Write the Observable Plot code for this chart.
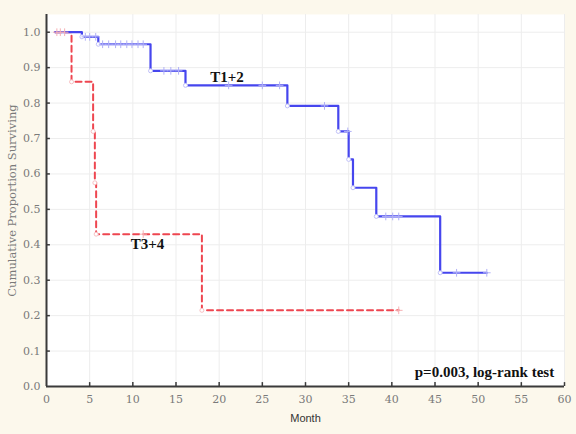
<!DOCTYPE html>
<html>
<head>
<meta charset="utf-8">
<script src="https://cdn.jsdelivr.net/npm/d3@7"></script>
<script src="https://cdn.jsdelivr.net/npm/@observablehq/plot@0.6"></script>
<style>
  body { margin: 0; background: #fcf8ec; }
</style>
</head>
<body>
<div id="chart"></div>
<script>
// Kaplan–Meier step points: month and cumulative proportion surviving
const t12Month = [1.0, 4.1, 6.0, 12.05, 16.1, 27.9, 33.8, 35.0, 35.5, 38.2, 45.6, 51.0];
const t12Surv  = [1.0, 0.987, 0.966, 0.891, 0.85, 0.792, 0.72, 0.641, 0.561, 0.48, 0.321, 0.321];
const t34Month = [1.0, 2.9, 5.4, 5.6, 5.75, 18.0, 40.8];
const t34Surv  = [1.0, 0.86, 0.72, 0.575, 0.43, 0.215, 0.215];

// Censored observations
const t12CensMonth = [4.5, 5.0, 5.7, 6.5, 7.2, 8.0, 8.6, 9.3, 9.9, 10.6, 11.2, 13.6, 14.4, 15.3, 21.1, 25.0, 27.0, 32.2, 34.9, 39.3, 40.1, 40.8, 47.5, 51.0];
const t12CensSurv  = [0.987, 0.987, 0.987, 0.966, 0.966, 0.966, 0.966, 0.966, 0.966, 0.966, 0.966, 0.891, 0.891, 0.891, 0.85, 0.85, 0.85, 0.792, 0.72, 0.48, 0.48, 0.48, 0.321, 0.321];
const t34CensMonth = [1.2, 1.6, 2.1, 11.2, 40.8];
const t34CensSurv  = [1.0, 1.0, 1.0, 0.43, 0.215];

// Group labels and test annotation
const groupNames = ["T1+2", "T3+4"];
const groupLabelMonth = [20.9, 11.7];
const groupLabelSurv = [0.872, 0.402];
const testText = "p=0.003, log-rank test";
const testMonth = 58.8;
const testSurv = 0.04;

const xTicks = [0, 5, 10, 15, 20, 25, 30, 35, 40, 45, 50, 55, 60];
const yTicks = [0, 0.1, 0.2, 0.3, 0.4, 0.5, 0.6, 0.7, 0.8, 0.9, 1.0];

const toRows = (ms, ss) => ms.map((m, i) => ({month: m, surv: ss[i]}));
const eventsOf = (rows) => rows.filter((d, i) => i > 0 && d.surv < rows[i - 1].surv);

const t12 = toRows(t12Month, t12Surv);
const t34 = toRows(t34Month, t34Surv);
const t12Cens = toRows(t12CensMonth, t12CensSurv);
const t34Cens = toRows(t34CensMonth, t34CensSurv);
const labels = groupNames.map((n, i) => ({name: n, month: groupLabelMonth[i], surv: groupLabelSurv[i]}));

const axisColor = "#3a3a3a";
const blue = "#4646ee";
const red = "#ee4650";

const chart = Plot.plot({
  width: 576,
  height: 434,
  marginLeft: 46,
  marginRight: 12,
  marginTop: 14,
  marginBottom: 48,
  style: {background: "#fcf8ec", fontFamily: "DejaVu Serif", fontSize: "11px", color: "#7a7a7a"},
  x: {domain: [0, 60]},
  y: {domain: [0, 1.05]},
  marks: [
    Plot.frame({fill: "white", stroke: null}),
    Plot.gridX(xTicks, {stroke: "#ededed", strokeOpacity: 1}),
    Plot.gridY(yTicks, {stroke: "#ededed", strokeOpacity: 1}),
    Plot.axisX(xTicks, {tickSize: 0, tickPadding: 9, tickFormat: d => String(d), label: null}),
    Plot.axisY(yTicks, {tickSize: 0, tickPadding: 6, tickFormat: d3.format(".1f"), label: null}),
    Plot.text(["Month"], {frameAnchor: "bottom", dy: 35, fontFamily: "Liberation Sans", fontSize: 11, fill: "#333"}),
    Plot.text(["Cumulative Proportion Surviving"], {frameAnchor: "left", textAnchor: "middle", dx: -34, rotate: -90, fontFamily: "DejaVu Serif", fontSize: 11.5, fill: "#7a7a7a"}),
    // axis lines with inward ticks
    Plot.ruleX([0], {stroke: axisColor, strokeWidth: 2}),
    Plot.ruleY([0], {stroke: axisColor, strokeWidth: 2}),
    Plot.ruleX(xTicks.slice(1), {y1: 0, y2: 0.011, stroke: axisColor, strokeWidth: 1.5}),
    Plot.ruleY(yTicks.slice(1), {x1: 0, x2: 0.45, stroke: axisColor, strokeWidth: 1.5}),
    // survival curves
    Plot.line(t34, {x: "month", y: "surv", curve: "step-after", stroke: red, strokeWidth: 2, strokeDasharray: "6,4"}),
    Plot.line(t12, {x: "month", y: "surv", curve: "step-after", stroke: blue, strokeWidth: 2.2}),
    // event markers and censoring ticks
    Plot.dot(eventsOf(t12), {x: "month", y: "surv", r: 2, fill: "white", stroke: "#c0c0f8", strokeWidth: 1}),
    Plot.dot(eventsOf(t34), {x: "month", y: "surv", r: 2, fill: "white", stroke: "#f7c0c3", strokeWidth: 1}),
    Plot.dot(t12Cens, {x: "month", y: "surv", symbol: "plus", r: 2.6, stroke: "#b0b0f6", strokeWidth: 1}),
    Plot.dot(t34Cens, {x: "month", y: "surv", symbol: "plus", r: 2.6, stroke: "#f6b0b4", strokeWidth: 1}),
    // annotations
    Plot.text(labels, {x: "month", y: "surv", text: "name", fontFamily: "Liberation Serif", fontWeight: "bold", fontSize: 15, fill: "#111"}),
    Plot.text([testText], {x: () => testMonth, y: () => testSurv, textAnchor: "end", fontFamily: "Liberation Serif", fontWeight: "bold", fontSize: 15, fill: "#111"})
  ]
});

document.getElementById("chart").appendChild(chart);
</script>
</body>
</html>
